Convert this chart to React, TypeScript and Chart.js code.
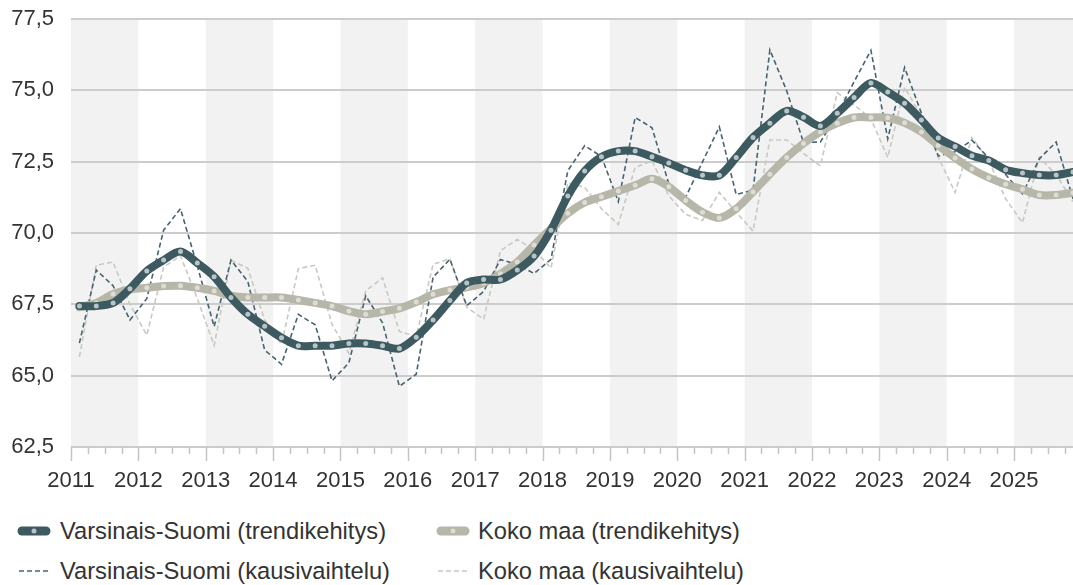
import React, { useEffect, useRef } from "react";
import { Chart, registerables } from "chart.js";

Chart.register(...registerables);

// ---------- DATA ----------
const years = [2011, 2012, 2013, 2014, 2015, 2016, 2017, 2018, 2019, 2020, 2021, 2022, 2023, 2024, 2025];
const quarterLabels: string[] = years.flatMap((y) => ["Q1", "Q2", "Q3", "Q4"].map((q) => `${y}${q}`));
const yTickValues = [62.5, 65, 67.5, 70, 72.5, 75, 77.5];

const vsTrend = [
  67.44, 67.44, 67.55, 68.05, 68.67, 69.05, 69.35, 68.95, 68.47, 67.74, 67.15, 66.73,
  66.33, 66.05, 66.05, 66.05, 66.13, 66.13, 66.05, 65.95, 66.35, 66.95, 67.63, 68.25,
  68.37, 68.37, 68.7, 69.19, 70.1, 71.3, 72.17, 72.67, 72.87, 72.87, 72.67, 72.45,
  72.2, 72.02, 72.02, 72.65, 73.35, 73.85, 74.28, 74.06, 73.75, 74.2, 74.75, 75.26,
  74.94, 74.55, 73.96, 73.33, 73.03, 72.71, 72.54, 72.22, 72.1, 72.03, 72.03, 72.14,
];
const kmTrend = [
  67.4, 67.55, 67.86, 68.02, 68.08, 68.14, 68.15, 68.08, 67.97, 67.8, 67.74, 67.74,
  67.74, 67.65, 67.55, 67.44, 67.26, 67.15, 67.25, 67.36, 67.58, 67.85, 68.0, 68.1,
  68.25, 68.57, 68.98, 69.58, 70.15, 70.69, 71.07, 71.27, 71.47, 71.67, 71.9, 71.62,
  71.14, 70.73, 70.53, 70.85, 71.44, 72.06, 72.65, 73.14, 73.55, 73.85, 74.05, 74.05,
  74.04, 73.86, 73.54, 73.07, 72.63, 72.24, 71.94, 71.71, 71.53, 71.33, 71.33, 71.41,
];
const vsSeasonal = [
  66.14, 68.7, 68.15, 66.95, 67.7, 70.1, 70.85, 68.85, 66.72, 69.05, 68.3, 65.9,
  65.4, 67.15, 66.78, 64.82, 65.45, 67.8, 66.85, 64.63, 65.05, 68.45, 69.08, 67.45,
  67.95, 69.07, 68.9, 68.58, 69.08, 72.18, 73.06, 72.68, 71.1, 74.05, 73.69, 71.72,
  71.26, 72.49, 73.72, 71.35, 71.5, 76.42, 74.98, 73.17, 73.19, 74.15, 75.3, 76.4,
  73.3, 75.8, 74.2, 72.7, 72.85, 73.25, 72.62, 72.05, 71.37, 72.6, 73.19, 71.2,
];
const kmSeasonal = [
  65.66, 68.87, 68.98, 67.5, 66.42, 68.8, 69.2, 67.7, 66.06, 69.05, 68.76, 66.95,
  66.1, 68.75, 68.87, 66.8, 65.78, 67.97, 68.43, 66.55, 66.37, 68.9, 69.1, 67.4,
  66.98, 69.38, 69.77, 69.42, 68.77, 71.76, 71.6, 70.85, 70.3, 72.3, 72.53, 71.3,
  70.65, 70.44, 71.42, 70.73, 70.07, 73.26, 73.26, 72.79, 72.35, 74.92, 74.5, 74.0,
  72.65, 75.1, 74.1, 72.65, 71.42, 73.35, 72.54, 71.2, 70.36, 72.65, 72.04, 71.1,
];

const seriesNames = [
  "Varsinais-Suomi (trendikehitys)",
  "Koko maa (trendikehitys)",
  "Varsinais-Suomi (kausivaihtelu)",
  "Koko maa (kausivaihtelu)",
];

// ---------- STYLE ----------
const C_VS_TREND = "#3c5a60";
const C_VS_DOT = "#b9c4c6";
const C_KM_TREND = "#b6b6a9";
const C_KM_DOT = "#dedcd4";
const C_VS_SEAS = "#46636f";
const C_KM_SEAS = "#c9c9c2";
const GRID = "#cccccc";
const TEXT = "#333333";
const FONT = "'Liberation Sans', Arial, sans-serif";

const quarterToX = (label: string) => {
  const y = Number(label.slice(0, 4));
  const q = Number(label.slice(5));
  return y + (q - 0.5) / 4;
};
const toPoints = (vals: number[]) => vals.map((v, i) => ({ x: quarterToX(quarterLabels[i]), y: v }));

const X_MIN = years[0];
const X_MAX = quarterToX(quarterLabels[quarterLabels.length - 1]);

const bandsPlugin = {
  id: "bands",
  beforeDraw(chart: any) {
    const { ctx, chartArea, scales } = chart;
    const xs = scales.x;
    ctx.save();
    ctx.fillStyle = "#f2f2f2";
    years.forEach((y, i) => {
      if (i % 2 !== 0) return;
      const x0 = Math.max(xs.getPixelForValue(y), chartArea.left);
      const x1 = Math.min(xs.getPixelForValue(y + 1), chartArea.right);
      ctx.fillRect(x0, chartArea.top, x1 - x0, chartArea.bottom - chartArea.top);
    });
    ctx.restore();
  },
};

const tickMarksPlugin = {
  id: "tickMarks",
  afterDraw(chart: any) {
    const { ctx, chartArea, scales } = chart;
    const xs = scales.x;
    ctx.save();
    ctx.strokeStyle = "#c4c4c4";
    ctx.lineWidth = 1.5;
    years.forEach((y) => {
      [0, 0.25, 0.5, 0.75].forEach((f) => {
        const v = y + f;
        if (v > X_MAX) return;
        const px = Math.round(xs.getPixelForValue(v)) + 0.5;
        const len = f === 0 ? 14 : 7;
        ctx.beginPath();
        ctx.moveTo(px, chartArea.bottom);
        ctx.lineTo(px, chartArea.bottom + len);
        ctx.stroke();
      });
    });
    ctx.restore();
  },
};

function LegendSymbol({ kind }: { kind: number }) {
  if (kind === 0 || kind === 1) {
    const c = kind === 0 ? C_VS_TREND : C_KM_TREND;
    const d = kind === 0 ? C_VS_DOT : C_KM_DOT;
    return (
      <svg width="34" height="12" style={{ display: "block" }}>
        <line x1="5" y1="6" x2="29" y2="6" stroke={c} strokeWidth="9" strokeLinecap="round" />
        <circle cx="17" cy="6" r="2.5" fill={d} />
      </svg>
    );
  }
  const c = kind === 2 ? C_VS_SEAS : C_KM_SEAS;
  return (
    <svg width="34" height="12" style={{ display: "block" }}>
      <line x1="2" y1="6" x2="32" y2="6" stroke={c} strokeWidth="1.5" strokeDasharray="5 3" />
    </svg>
  );
}

export default function App() {
  const canvasRef = useRef<HTMLCanvasElement | null>(null);

  useEffect(() => {
    if (!canvasRef.current) return;
    Chart.defaults.font.family = FONT;
    const chart = new Chart(canvasRef.current, {
      type: "line",
      data: {
        datasets: [
          {
            label: seriesNames[0],
            data: toPoints(vsTrend),
            borderColor: C_VS_TREND,
            borderWidth: 8,
            tension: 0.3,
            pointRadius: 2.5,
            pointBackgroundColor: C_VS_DOT,
            pointBorderWidth: 0,
            borderCapStyle: "round",
            borderJoinStyle: "round",
          },
          {
            label: seriesNames[1],
            data: toPoints(kmTrend),
            borderColor: C_KM_TREND,
            borderWidth: 8,
            tension: 0.3,
            pointRadius: 2.5,
            pointBackgroundColor: C_KM_DOT,
            pointBorderWidth: 0,
            borderCapStyle: "round",
            borderJoinStyle: "round",
          },
          {
            label: seriesNames[2],
            data: toPoints(vsSeasonal),
            borderColor: C_VS_SEAS,
            borderWidth: 1.6,
            borderDash: [5, 3],
            tension: 0,
            pointRadius: 0,
          },
          {
            label: seriesNames[3],
            data: toPoints(kmSeasonal),
            borderColor: C_KM_SEAS,
            borderWidth: 1.6,
            borderDash: [5, 3],
            tension: 0,
            pointRadius: 0,
          },
        ],
      },
      options: {
        animation: false,
        responsive: false,
        maintainAspectRatio: false,
        layout: { autoPadding: false, padding: { top: 19, left: 0, right: 0, bottom: 0 } },
        plugins: {
          legend: { display: false },
          tooltip: { enabled: false },
        },
        scales: {
          x: {
            type: "linear",
            min: X_MIN,
            max: X_MAX,
            grid: { display: false },
            border: { display: false },
            afterBuildTicks: (scale: any) => {
              scale.ticks = years.map((y) => ({ value: y }));
            },
            afterFit: (scale: any) => {
              scale.height = 53;
              scale.paddingRight = 0;
              scale.paddingLeft = 0;
            },
            ticks: {
              autoSkip: false,
              maxRotation: 0,
              padding: 13,
              color: TEXT,
              font: { size: 22, family: FONT },
              callback: (v: any) => String(v),
            },
          },
          y: {
            min: 62.5,
            max: 77.5,
            afterBuildTicks: (scale: any) => {
              scale.ticks = yTickValues.map((v) => ({ value: v }));
            },
            afterFit: (scale: any) => {
              scale.width = 71;
              scale.paddingTop = 0;
              scale.paddingBottom = 0;
            },
            grid: { color: GRID, lineWidth: 2, drawTicks: false },
            border: { display: false },
            ticks: {
              padding: 17,
              color: TEXT,
              font: { size: 22, family: FONT },
              callback: (v: any) => Number(v).toFixed(1).replace(".", ","),
            },
          },
        },
      },
      plugins: [bandsPlugin, tickMarksPlugin],
    } as any);
    return () => chart.destroy();
  }, []);

  const legendRow = (a: number, b: number, top: number) => (
    <div style={{ position: "absolute", top, left: 0, height: 28, width: 1073 }}>
      <div style={{ position: "absolute", left: 17, top: 8 }}>
        <LegendSymbol kind={a} />
      </div>
      <div style={{ position: "absolute", left: 60, top: 0, lineHeight: "28px" }}>{seriesNames[a]}</div>
      <div style={{ position: "absolute", left: 436, top: 8 }}>
        <LegendSymbol kind={b} />
      </div>
      <div style={{ position: "absolute", left: 478, top: 0, lineHeight: "28px" }}>{seriesNames[b]}</div>
    </div>
  );

  return (
    <div
      style={{
        position: "fixed",
        left: 0,
        top: 0,
        width: 1073,
        height: 585,
        background: "#ffffff",
        fontFamily: FONT,
        fontSize: 23.7,
        color: TEXT,
        overflow: "hidden",
      }}
    >
      <canvas ref={canvasRef} width={1073} height={500} style={{ display: "block", width: 1073, height: 500 }} />
      {legendRow(0, 1, 517)}
      {legendRow(2, 3, 557)}
    </div>
  );
}
